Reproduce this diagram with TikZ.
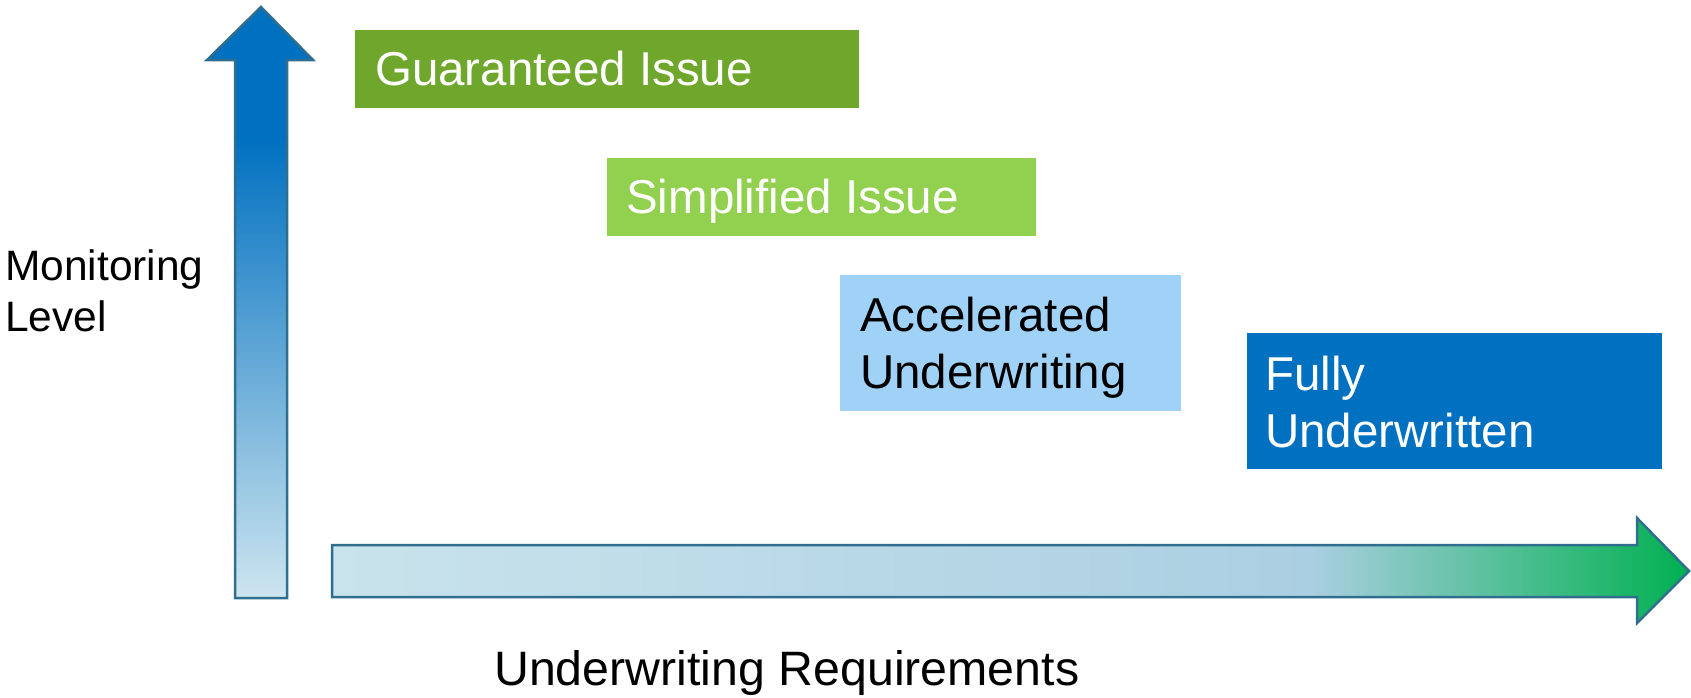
\documentclass[tikz,border=0pt]{standalone}
\usepackage{fontspec}
\setmainfont{Liberation Sans}
\usepackage{xcolor}
\usepackage{tikz}
\usetikzlibrary{calc}

\definecolor{giGreen}{HTML}{6FA72D}
\definecolor{siGreen}{HTML}{92D050}
\definecolor{auBlue}{HTML}{A0D2F7}
\definecolor{fuBlue}{HTML}{0070C0}
\definecolor{edge}{HTML}{2F6E8E}
\definecolor{upTop}{HTML}{0070C0}
\definecolor{upBot}{HTML}{CDE5EF}
\definecolor{rqLeft}{HTML}{C9E3EC}
\definecolor{rqMid}{HTML}{ABCFE2}
\definecolor{rqEnd}{HTML}{00B050}

% fades for the two axis arrows (path box = 25bp..75bp)
\pgfdeclareverticalshading{monfade}{100bp}{color(0bp)=(upBot); color(25bp)=(upBot);
  color(64bp)=(upTop); color(100bp)=(upTop)}
\pgfdeclarehorizontalshading{reqfade}{100bp}{color(0bp)=(rqLeft); color(25bp)=(rqLeft);
  color(61bp)=(rqMid); color(75bp)=(rqEnd); color(100bp)=(rqEnd)}

\begin{document}
\begin{tikzpicture}[
  x=1pt,y=-1pt,
  box/.style={anchor=north west,inner sep=0pt,outer sep=0pt},
  txt/.style={anchor=base west,inner sep=0pt,align=left,font=\fontsize{47.5}{57}\selectfont},
  ar/.style={draw=edge,line width=2.5pt,line join=miter}
]
\useasboundingbox (0,0) rectangle (1691,697);

% axes
\path[ar,shading=monfade] (235,598) -- (235,60) -- (207,60) -- (261,7) -- (313,60)
  -- (287,60) -- (287,598) -- cycle;
\path[ar,shading=reqfade] (332,545) -- (1637,545) -- (1637,518) -- (1689,571)
  -- (1637,623) -- (1637,597) -- (332,597) -- cycle;

% base anchor of a two-line node sits on its last line
\node[txt,font=\fontsize{42.5}{51}\selectfont] (mon) at (5,331) {Monitoring\\Level};
\node[txt,font=\fontsize{48.3}{57}\selectfont] (req) at (494,685) {Underwriting Requirements};

% issue types
\node[box,fill=giGreen,minimum width=504,minimum height=78] (gi) at (355,30) {};
\node[box,fill=siGreen,minimum width=429,minimum height=78] (si) at (607,158) {};
\node[box,fill=auBlue,minimum width=341,minimum height=136] (au) at (840,275) {};
\node[box,fill=fuBlue,minimum width=415,minimum height=136] (fu) at (1247,333) {};

\node[txt,text=white] (giText) at ($(gi.north west)+(20,55)$) {Guaranteed Issue};
\node[txt,text=white] (siText) at ($(si.north west)+(19,55)$) {Simplified Issue};
\node[txt] (auText) at ($(au.north west)+(20,113)$) {Accelerated\\Underwriting};
\node[txt,text=white] (fuText) at ($(fu.north west)+(18,114)$) {Fully\\Underwritten};
\end{tikzpicture}
\end{document}
